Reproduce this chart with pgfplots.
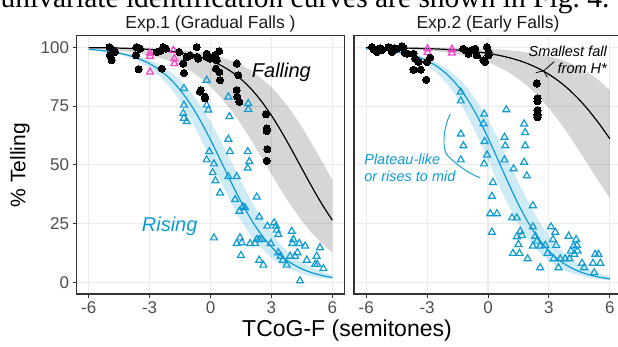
\documentclass[border=0pt]{standalone}
\usepackage{pgfplots}
\usepackage{pgfplotstable}
\pgfplotsset{compat=1.18}
\usepgfplotslibrary{fillbetween}
\usepackage{fontspec}
\setmainfont{Liberation Sans}
\newfontfamily\seriffont{Liberation Serif}
\definecolor{cblue}{HTML}{0E9AD3}
\definecolor{cpink}{HTML}{F542C8}
\definecolor{gridc}{HTML}{EBEBEB}
\definecolor{framec}{HTML}{333333}
\definecolor{ticklab}{HTML}{4D4D4D}
\definecolor{striptxt}{HTML}{1A1A1A}

% ---------- left panel (Exp.1) ----------
\pgfplotstableread{
x y
-6 99.87
-5.5 99.82
-5 99.76
-4.5 99.67
-4 99.54
-3.5 99.37
-3 99.13
-2.5 98.81
-2 98.36
-1.5 97.76
-1 96.94
-0.5 95.84
0 94.35
0.5 92.39
1 89.81
1.5 86.48
2 82.29
2.5 77.14
3 71.01
3.5 64.02
4 56.37
4.5 48.40
5 40.52
5.5 33.09
6 26.43
}\LblackFit
\pgfplotstableread{
x y
-6 99.92
-5 99.85
-4 99.73
-3 99.50
-2 99.08
-1 98.30
-0.5 97.70
0 96.90
0.5 95.83
1 94.41
1.5 92.53
2 90.11
2.5 86.99
3 83.09
3.5 78.30
4 72.61
4.5 66.06
5 58.86
5.5 51.22
6 43.56
}\LblackHi
\pgfplotstableread{
x y
-6 99.42
-5 98.96
-4 98.14
-3 96.69
-2 94.19
-1.5 92.35
-1 90.00
-0.5 87.01
0 83.31
0.5 78.80
1 73.48
1.5 67.35
2 60.59
2.5 53.37
3 46.04
3.5 38.84
4 32.12
4.5 26.06
5 20.80
5.5 16.36
6 12.72
}\LblackLo
\pgfplotstableread{
x y
-6 99.14
-5.5 98.78
-5 98.26
-4.5 97.52
-4 96.48
-3.5 95.04
-3 93.03
-2.5 90.31
-2 86.67
-1.5 81.93
-1 75.99
-0.5 68.82
0 60.64
0.5 51.80
1 42.85
1.5 34.34
2 26.74
2.5 20.30
3 15.09
3.5 11.03
4 7.96
4.5 5.69
5 4.04
5.5 2.85
6 2.01
}\LblueFit
\pgfplotstableread{
x y
-6 99.31
-5.5 99.02
-5 98.62
-4.5 98.05
-4 97.26
-3.5 96.16
-3 94.63
-2.5 92.55
-2 89.75
-1.5 86.06
-1 81.31
-0.5 75.40
0 68.35
0.5 60.35
1 51.75
1.5 43.05
2 34.75
2.5 27.29
3 20.92
3.5 15.71
4 11.61
4.5 8.47
5 6.12
5.5 4.39
6 3.14
}\LblueHi
\pgfplotstableread{
x y
-6 98.99
-5.5 98.54
-5 97.90
-4.5 96.97
-4 95.65
-3.5 93.79
-3 91.21
-2.5 87.70
-2 83.06
-1.5 77.12
-1 69.85
-0.5 61.42
0 52.25
0.5 42.92
1 34.08
1.5 26.21
2 19.62
2.5 14.37
3 10.34
3.5 7.34
4 5.17
4.5 3.61
5 2.51
5.5 1.74
6 1.20
}\LblueLo
\pgfplotstableread{
x y
-4.98 100.1
-4.79 98.7
-4.95 96.6
-4.87 94.5
-4.70 98.0
-3.64 100.1
-3.47 99.4
-3.67 96.6
-3.54 90.7
-2.65 98.0
-2.45 98.5
-2.33 100.1
-2.19 99.4
-2.40 90.9
-1.54 98.0
-1.34 93.1
-1.31 89.1
-1.17 95.9
-1.00 96.5
-0.68 100.1
-0.65 95.9
-0.60 95.2
-0.52 81.1
-0.48 81.8
-0.27 79.0
-0.27 78.3
-0.19 95.9
-0.19 97.3
-0.02 95.2
0.22 96.6
0.43 98.4
0.31 94.5
0.27 90.9
0.43 89.5
0.47 86.0
1.29 93.1
1.37 88.1
1.29 81.8
1.32 78.9
1.42 76.8
2.73 71.5
2.77 65.5
2.77 64.4
2.80 56.6
2.77 51.7
}\LblackPts
\pgfplotstableread{
x y
-2.98 97.6
-2.98 96.2
-2.98 89.5
-1.83 98.7
-1.78 95.2
-1.78 93.1
}\LpinkPts
\pgfplotstableread{
x y
-1.31 82.5
-1.31 75.4
-1.34 71.9
-1.31 69.8
-1.17 68.4
-0.19 86.0
-0.19 75.4
-0.11 73.3
0.88 78.9
0.93 70.5
0.88 60.9
0.96 55.6
-0.06 55.6
-0.19 52.1
0.17 50.4
0.11 46.7
0.24 43.2
0.47 38.0
0.88 45.0
1.29 45.0
1.21 35.2
1.42 30.2
1.59 32.1
1.70 31.7
1.83 55.6
1.91 51.4
1.83 48.6
1.86 76.1
1.86 73.6
2.28 36.3
2.40 27.8
0.17 18.9
1.29 16.5
1.45 18.9
1.54 16.8
1.50 11.4
1.95 16.5
2.19 16.5
2.28 18.2
2.40 18.2
2.52 18.2
2.40 9.4
2.60 7.3
2.80 23.9
2.97 16.5
3.13 25.3
3.23 23.9
3.26 22.2
3.34 20.3
3.34 12.6
3.46 11.1
3.56 9.4
3.75 7.3
3.92 11.1
4.00 21.7
4.08 18.2
4.03 16.5
4.16 11.1
4.28 12.6
4.37 16.5
4.41 0.6
4.66 15.4
4.74 9.4
5.15 7.6
5.23 11.1
5.39 14.7
5.26 7.6
5.56 5.8
}\LbluePts

% ---------- right panel (Exp.2) ----------
\pgfplotstableread{
x y
-6 99.89
-5.5 99.86
-5 99.81
-4.5 99.76
-4 99.68
-3.5 99.59
-3 99.46
-2.5 99.30
-2 99.09
-1.5 98.82
-1 98.46
-0.5 98.01
0 97.42
0.5 96.66
1 95.69
1.5 94.46
2 92.90
2.5 90.94
3 88.50
3.5 85.52
4 81.92
4.5 77.66
5 72.73
5.5 67.17
6 61.09
}\RblackFit
\pgfplotstableread{
x y
-6 99.98
-4 99.93
-2 99.78
-1 99.60
0 99.30
0.5 99.06
1 98.76
1.5 98.35
2 97.81
2.5 97.11
3 96.18
3.5 94.97
4 93.41
4.5 91.40
5 88.86
5.5 85.67
6 81.77
}\RblackHi
\pgfplotstableread{
x y
-6 99.74
-5 99.55
-4 99.23
-3 98.68
-2 97.75
-1.5 97.06
-1 96.18
-0.5 95.05
0 93.59
0.5 91.76
1 89.45
1.5 86.60
2 83.12
2.5 78.95
3 74.08
3.5 68.53
4 62.39
4.5 55.82
5 49.05
5.5 42.31
6 35.84
}\RblackLo
\pgfplotstableread{
x y
-6 99.42
-5.5 99.15
-5 98.75
-4.5 98.16
-4 97.31
-3.5 96.08
-3 94.31
-2.5 91.82
-2 88.37
-1.5 83.73
-1 77.69
-0.5 70.22
0 61.50
0.5 51.95
1 42.26
1.5 33.14
2 25.13
2.5 18.51
3 13.33
3.5 9.43
4 6.59
4.5 4.56
5 3.13
5.5 2.14
6 1.46
}\RblueFit
\pgfplotstableread{
x y
-6 99.48
-5.5 99.25
-5 98.92
-4.5 98.44
-4 97.75
-3.5 96.78
-3 95.41
-2.5 93.49
-2 90.84
-1.5 87.26
-1 82.55
-0.5 76.57
0 69.30
0.5 60.92
1 51.85
1.5 42.65
2 33.94
2.5 26.19
3 19.69
3.5 14.48
4 10.47
4.5 7.47
5 5.29
5.5 3.71
6 2.59
}\RblueHi
\pgfplotstableread{
x y
-6 99.25
-5.5 98.88
-5 98.34
-4.5 97.54
-4 96.37
-3.5 94.69
-3 92.27
-2.5 88.90
-2 84.29
-1.5 78.25
-1 70.68
-0.5 61.77
0 52.00
0.5 42.07
1 32.74
1.5 24.60
2 17.95
2.5 12.79
3 8.95
3.5 6.18
4 4.23
4.5 2.88
5 1.95
5.5 1.31
6 0.88
}\RblueLo
\pgfplotstableread{
x y
-5.72 100.1
-5.64 99.2
-5.47 98.0
-5.30 99.6
-5.23 98.8
-4.90 100.1
-4.73 98.0
-4.60 99.5
-4.49 99.4
-4.24 100.5
-4.16 99.6
-4.08 97.6
-4.00 97.3
-3.67 97.3
-3.59 95.2
-3.42 93.8
-3.67 90.5
-3.31 90.5
-3.04 86.2
-3.01 93.8
-2.85 95.6
-1.21 99.4
-1.05 98.5
-0.96 97.3
-0.79 98.7
-0.63 99.4
-0.55 96.6
-0.22 94.5
-0.05 100.1
0.02 96.6
0.02 98.0
-0.14 93.8
2.41 84.6
2.44 78.3
2.44 77.0
2.44 73.3
2.44 71.2
2.44 70.2
}\RblackPts
\pgfplotstableread{
x y
-2.98 99.4
-2.98 97.8
-1.78 99.2
-1.78 97.6
}\RpinkPts
\pgfplotstableread{
x y
-1.34 81.0
-1.34 77.2
-0.19 71.6
-0.22 67.5
0.90 73.4
1.78 67.4
1.83 63.7
-1.34 63.1
-1.21 58.1
-1.34 52.1
-0.17 59.9
-0.05 54.2
-0.19 50.4
0.81 61.7
0.85 58.1
0.81 52.1
1.26 48.3
1.83 58.1
1.78 51.1
1.91 45.3
0.24 42.5
0.19 36.6
0.11 29.2
0.44 29.2
0.19 21.3
2.21 32.6
1.18 27.4
1.42 27.4
1.59 21.7
1.42 19.4
1.67 19.9
1.50 16.1
1.23 12.3
1.55 12.3
1.95 10.0
2.21 23.6
2.33 19.6
2.41 17.5
2.21 15.4
2.57 15.4
2.57 6.2
2.82 15.7
2.93 12.3
3.10 23.6
3.31 21.3
3.20 18.2
3.36 15.7
3.23 10.0
3.47 6.2
3.56 10.0
3.80 10.0
4.01 10.0
3.97 19.6
4.08 13.3
4.21 15.4
4.34 18.2
4.38 15.7
4.41 13.3
4.25 11.9
4.63 8.1
4.74 6.2
5.23 4.1
5.17 8.1
5.28 11.9
5.44 11.9
5.53 8.1
}\RbluePts

\pgfplotsset{
  panel/.style={
    scale only axis, width=268pt, height=258.4pt, anchor=south west,
    xmin=-6.6, xmax=6.6, ymin=-5, ymax=105,
    xtick={-6,-3,0,3,6}, xticklabels={-6,-3,0,3,6},
    ytick={0,25,50,75,100}, yticklabels={0,25,50,75,100},
    grid=major, major grid style={draw=gridc, line width=1.1pt},
    axis line style={draw=framec, line width=1.1pt},
    tick align=outside, xtick pos=left, ytick pos=left,
    major tick length=4pt, tick style={draw=framec, line width=1pt},
    ticklabel style={font=\fontsize{17}{17}\selectfont, text=ticklab},
    title style={font=\fontsize{17.5}{17.5}\selectfont, text=striptxt, yshift=-6pt},
  },
  fitline/.style={no markers, smooth, line width=1.2pt},
  band/.style={draw=none, no markers, name path=#1},
  bpts/.style={only marks, mark=*, mark size=3.6pt, mark options={fill=black, draw=black, line width=0pt}},
  tpts/.style={only marks, mark=triangle, mark size=4pt, mark options={draw=#1, line width=1.2pt, fill=none}},
}

\begin{document}
\begin{tikzpicture}

\begin{axis}[panel, at={(76.5pt,53pt)}, title={Exp.1 (Gradual Falls )}]
\addplot[band=LBH] table {\LblackHi};
\addplot[band=LBL] table {\LblackLo};
\addplot[fill=black, fill opacity=0.16, draw=none] fill between[of=LBH and LBL];
\addplot[band=LUH] table {\LblueHi};
\addplot[band=LUL] table {\LblueLo};
\addplot[fill=cblue, fill opacity=0.2, draw=none] fill between[of=LUH and LUL];
\addplot[fitline, black] table {\LblackFit};
\addplot[fitline, cblue] table {\LblueFit};
\addplot[tpts=cblue] table {\LbluePts};
\addplot[tpts=cpink] table {\LpinkPts};
\addplot[bpts] table {\LblackPts};
\node[anchor=base west, font=\fontsize{20}{20}\selectfont\itshape, inner sep=0] at (axis cs:2.03,87.0) {Falling};
\node[anchor=base west, font=\fontsize{20}{20}\selectfont\itshape, text=cblue, inner sep=0] at (axis cs:-3.39,21.7) {Rising};
\end{axis}

\begin{axis}[panel, at={(354pt,53pt)}, title={Exp.2 (Early Falls)}, yticklabels={}, ytick style={draw=none}]
\addplot[band=RBH] table {\RblackHi};
\addplot[band=RBL] table {\RblackLo};
\addplot[fill=black, fill opacity=0.16, draw=none] fill between[of=RBH and RBL];
\addplot[band=RUH] table {\RblueHi};
\addplot[band=RUL] table {\RblueLo};
\addplot[fill=cblue, fill opacity=0.2, draw=none] fill between[of=RUH and RUL];
\addplot[fitline, black] table {\RblackFit};
\addplot[fitline, cblue] table {\RblueFit};
\addplot[tpts=cblue] table {\RbluePts};
\addplot[tpts=cpink] table {\RpinkPts};
\addplot[bpts] table {\RblackPts};
\node[anchor=base east, font=\fontsize{14.5}{14.5}\selectfont\itshape, inner sep=0] at (axis cs:5.86,95.9) {Smallest fall};
\node[anchor=base east, font=\fontsize{14.5}{14.5}\selectfont\itshape, inner sep=0] at (axis cs:5.86,88.9) {from H*};
\draw[black, line width=0.8pt] (axis cs:3.26,93.9) -- (axis cs:2.74,90.0);
\draw[black, line width=0.8pt] (axis cs:2.35,89.2) -- (axis cs:2.74,90.0) -- (axis cs:2.92,87.3);
\node[anchor=base west, font=\fontsize{14.5}{14.5}\selectfont\itshape, text=cblue, inner sep=0] at (axis cs:-6.1,50) {Plateau-like};
\node[anchor=base west, font=\fontsize{14.5}{14.5}\selectfont\itshape, text=cblue, inner sep=0] at (axis cs:-6.1,42.9) {or rises to mid};
\draw[cblue, line width=0.9pt] (axis cs:-1.86,71.6) .. controls (axis cs:-2.2,66) and (axis cs:-2.3,56) .. (axis cs:-1.95,53.5) .. controls (axis cs:-1.6,50.5) and (axis cs:-1.0,46.5) .. (axis cs:-0.38,44.4);
\end{axis}

\node[rotate=90, font=\fontsize{21}{21}\selectfont] at (20pt,182pt) {\% Telling};
\node[font=\fontsize{23}{23}\selectfont] at (347pt,16pt) {TCoG-F (semitones)};
\begin{scope}
\clip (0pt,0pt) rectangle (618pt,347pt);
\node[anchor=base west, inner sep=0, font=\seriffont\fontsize{29.5}{29.5}\selectfont] at (0.5pt,339.5pt) {univariate identification curves are shown in Fig.~4.};
\end{scope}
\pgfresetboundingbox
\path[use as bounding box] (0pt,0pt) rectangle (618pt,347pt);
\end{tikzpicture}
\end{document}
